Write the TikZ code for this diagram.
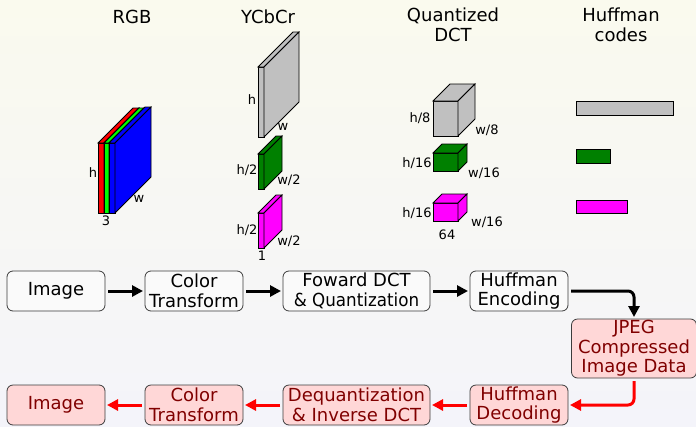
\documentclass[tikz,border=0pt]{standalone}
\usepackage{fontspec}
\setmainfont{DejaVu Sans}
\usetikzlibrary{arrows.meta,positioning}
\definecolor{bgtop}{RGB}{250,250,238}
\definecolor{bgbot}{RGB}{244,244,250}
\definecolor{boxline}{RGB}{60,60,60}
\definecolor{encfill}{RGB}{250,250,250}
\definecolor{decfill}{RGB}{255,215,215}
\definecolor{dectext}{RGB}{128,0,0}
\definecolor{lumagray}{RGB}{192,192,192}
\definecolor{cbgreen}{RGB}{0,128,0}
\definecolor{crmagenta}{RGB}{255,0,255}
\newcommand{\cuboid}[6]{% fill, x, y, width, height, depth
  \filldraw[fill=#1] (#2,#3) rectangle ++(#4,#5);
  \filldraw[fill=#1] (#2,#3) -- ++(#6,-#6) -- ++(#4,0) -- ++(-#6,#6) -- cycle;
  \filldraw[fill=#1] (#2+#4,#3) -- ++(#6,-#6) -- ++(0,#5) -- ++(-#6,#6) -- cycle;
}

\begin{document}
\begin{tikzpicture}[
  x=1pt,y=-1pt,line width=0.8pt,
  stage/.style={draw=boxline,rounded corners=6pt,minimum width=98pt,minimum height=40pt,inner sep=0pt,outer sep=0pt,align=center,font=\fontsize{18}{19.5}\selectfont},
  enc/.style={stage,fill=encfill},
  dec/.style={stage,fill=decfill,text=dectext},
  flow/.style={line width=3pt,-{Triangle[length=11pt,width=11pt]},shorten <=3pt,shorten >=2pt},
  back/.style={flow,red},
  title/.style={font=\fontsize{18}{20}\selectfont,align=center,inner sep=0pt},
  dim/.style={font=\fontsize{13}{15}\selectfont,inner sep=0pt}
]
\shade[top color=bgtop,bottom color=bgbot] (0,0) rectangle (696,426);
\useasboundingbox (0,0) rectangle (696,426);

\node[title] (rgbt) at (132,17) {RGB};
\node[title] (ycct) at (268,17) {YCbCr};
\node[title] (qdctt) at (453,25) {Quantized\\DCT};
\node[title] (hufft) at (621,25) {Huffman\\codes};

\cuboid{red}{98}{143}{6}{70}{35}
\cuboid{green}{104}{143}{5}{70}{35}
\cuboid{blue}{109}{143}{6}{70}{36}
\node[dim] (rgbh) at (93,173) {h};
\node[dim] (rgbw) at (139,199) {w};
\node[dim] (rgbd) at (106,221) {3};

\cuboid{lumagray}{258}{67}{6}{70}{35}
\node[dim] (yh) at (252,100) {h};
\node[dim] (yw) at (283,127) {w};
\cuboid{cbgreen}{258}{154}{6}{35}{18}
\node[dim] (cbh) at (247,170) {h/2};
\node[dim] (cbw) at (289,180) {w/2};
\cuboid{crmagenta}{258}{213}{6}{35}{18}
\node[dim] (crh) at (247,230) {h/2};
\node[dim] (crw) at (289,241) {w/2};
\node[dim] (crd) at (262,256) {1};

\cuboid{lumagray}{433}{101}{25}{35}{17}
\node[dim] (qyh) at (420,118) {h/8};
\node[dim] (qyw) at (487,130) {w/8};
\cuboid{cbgreen}{433}{153}{25}{18}{9}
\node[dim] (qcbh) at (417,163) {h/16};
\node[dim] (qcbw) at (484,173) {w/16};
\cuboid{crmagenta}{433}{203}{25}{18}{9}
\node[dim] (qcrh) at (417,213) {h/16};
\node[dim] (qcrw) at (487,222) {w/16};
\node[dim] (qcrd) at (447,235) {64};

\filldraw[fill=lumagray] (576,101) rectangle (673,115);
\filldraw[fill=cbgreen] (576,149) rectangle (610,163);
\filldraw[fill=crmagenta] (576,200) rectangle (627,213);

\node[enc] (img) at (56,291) {Image};
\node[enc,right=40pt of img] (ctf) {Color\\Transform};
\node[enc,minimum width=147pt,right=40pt of ctf] (fdct) {Foward DCT\\\scalebox{0.93}[1]{\fontsize{18}{19.5}\selectfont\& Quantization}};
\node[enc,right=40pt of fdct] (henc) {Huffman\\Encoding};
\node[dec,minimum width=125pt,minimum height=59pt] (jpeg) at (634,348.5) {JPEG\\Compressed\\Image Data};
\node[dec,below=74pt of img] (outimg) {Image};
\node[dec,below=74pt of ctf] (ictf) {Color\\Transform};
\node[dec,minimum width=147pt,below=74pt of fdct] (idct) {Dequantization\\\& Inverse DCT};
\node[dec,below=74pt of henc] (hdec) {Huffman\\Decoding};

\draw[flow] (img) -- (ctf);
\draw[flow] (ctf) -- (fdct);
\draw[flow] (fdct) -- (henc);
\draw[flow,rounded corners=6pt] (henc.east) -| (jpeg.north);
\draw[back,rounded corners=6pt] (jpeg.south) |- (hdec.east);
\draw[back] (hdec) -- (idct);
\draw[back] (idct) -- (ictf);
\draw[back] (ictf) -- (outimg);
\end{tikzpicture}
\end{document}
